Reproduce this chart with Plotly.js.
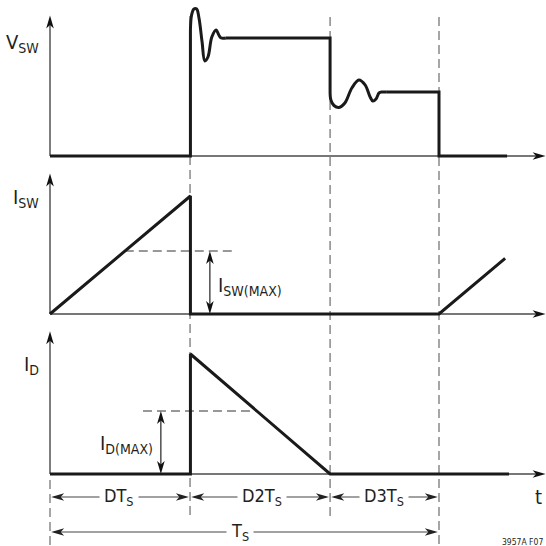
<!DOCTYPE html>
<html>
<head>
<meta charset="utf-8">
<script src="https://cdn.plot.ly/plotly-3.0.1.min.js"></script>
<style>
  html, body { margin: 0; padding: 0; background: #fff; }
  #chart { width: 546px; height: 546px; }
</style>
</head>
<body>
<div id="chart"></div>
<script>
// Switching period split into the three conduction intervals (fractions of T_S)
const phaseLabels = ['DT<sub>S</sub>', 'D2T<sub>S</sub>', 'D3T<sub>S</sub>'];
const phaseFractions = [0.36, 0.36, 0.28];
const periodLabel = 'T<sub>S</sub>';

// Switch-node voltage, normalised to its level while the diode conducts
const vswOffT = [0, 0.361, 0.361];
const vswOffV = [0, 0, 1.068];
const vswRing1T = [0.361, 0.364, 0.370, 0.377, 0.383, 0.391, 0.398, 0.406, 0.416, 0.427, 0.434, 0.440, 0.452];
const vswRing1V = [1.068, 1.195, 1.246, 1.246, 1.169, 0.966, 0.805, 0.839, 1.008, 1.068, 1.025, 1.000, 1.000];
const vswHighT = [0.452, 0.72, 0.72];
const vswHighV = [1.000, 1.000, 0.559];
const vswRing2T = [0.720, 0.722, 0.730, 0.743, 0.758, 0.776, 0.794, 0.810, 0.823, 0.830, 0.838, 0.846, 0.853, 0.864];
const vswRing2V = [0.559, 0.475, 0.428, 0.411, 0.449, 0.576, 0.644, 0.602, 0.500, 0.466, 0.483, 0.534, 0.542, 0.542];
const vswLowT = [0.864, 1.0, 1.0, 1.175];
const vswLowV = [0.542, 0.542, 0, 0];

// Switch current, normalised to its peak
const iswT = [0, 0.361, 0.361, 1.0, 1.17];
const iswV = [0, 1, 0, 0, 0.472];
const iswMax = 0.534;

// Diode current, normalised to its peak
const idT = [0, 0.361, 0.361, 0.72, 1.18];
const idV = [0, 0, 1, 0, 0];
const idMax = 0.525;

const axisTop = 1.19;   // height of the vertical axis arrows (signal units)

// ---- page geometry (pixels) ----
const W = 546, H = 546;
const originPx = 50, periodPx = 389;
const px = v => v / W;
const py = v => 1 - v / H;

function panelAxis(topPx, bottomPx, basePx, pxPerUnit) {
  return {
    domain: [1 - bottomPx / H, 1 - topPx / H],
    range: [(basePx - bottomPx) / pxPerUnit, (basePx - topPx) / pxPerUnit],
    visible: false, fixedrange: true
  };
}

const textColor = '#231f20';
const fontFamily = "'Liberation Sans Narrow', 'DejaVu Sans Condensed', 'Roboto', sans-serif";
const wave = { color: '#1a1a1a', width: 3 };

const tr = (x, y, yaxis, shape) => ({
  x, y, yaxis, xaxis: 'x', type: 'scatter', mode: 'lines',
  line: Object.assign({ shape: shape || 'linear' }, wave),
  hoverinfo: 'skip', showlegend: false
});

const traces = [
  tr(vswOffT, vswOffV, 'y'),
  tr(vswRing1T, vswRing1V, 'y', 'spline'),
  tr(vswHighT, vswHighV, 'y'),
  tr(vswRing2T, vswRing2V, 'y', 'spline'),
  tr(vswLowT, vswLowV, 'y'),
  tr(iswT, iswV, 'y2'),
  tr(idT, idV, 'y3')
];

// phase boundaries
const bounds = [0];
phaseFractions.forEach(f => bounds.push(+(bounds[bounds.length - 1] + f).toFixed(4)));
const Ts = bounds[bounds.length - 1];
const xEnd = (W - originPx) / periodPx;

const shapes = [];
const annotations = [];

// slender barbed arrowhead, tip anchored at (x, y), sized in pixels (y up)
const HEAD_L = 13, HEAD_W = 3.8, HEAD_B = 9.5;
function head(yref, x, y, dir, color) {
  const pts = [[0, 0], [-HEAD_L, -HEAD_W], [-HEAD_B, 0], [-HEAD_L, HEAD_W]];
  const rot = {
    right: p => [p[0], p[1]],
    left:  p => [-p[0], p[1]],
    up:    p => [p[1], p[0]],
    down:  p => [p[1], -p[0]]
  }[dir];
  const path = pts.map(rot).map((p, i) => (i ? 'L' : 'M') + p[0].toFixed(2) + ',' + p[1].toFixed(2)).join('') + 'Z';
  shapes.push({
    type: 'path', xref: 'x', yref: yref,
    xsizemode: 'pixel', ysizemode: 'pixel', xanchor: x, yanchor: y,
    path: path, fillcolor: color || '#111', line: { width: 0 }, layer: 'above'
  });
}
function seg(yref, x0, y0, x1, y1, line, layer) {
  shapes.push({ type: 'line', xref: 'x', yref: yref, x0, y0, x1, y1, line, layer: layer || 'below' });
}

// axes of each panel: grey lines with black arrow tips
['y', 'y2', 'y3'].forEach(yr => {
  seg(yr, 0, 0, 0, axisTop - 0.05, { color: '#707070', width: 1.8 });
  seg(yr, 0, 0, xEnd - 0.02, 0, { color: '#4a4a4a', width: 1.3 });
  head(yr, 0, axisTop, 'up');
  head(yr, xEnd - 0.001, 0, 'right');
});

// vertical dashed boundary lines
const dash = { color: '#777', width: 1.3, dash: '9px,5px' };
const vdash = (x, topPx, botPx) => shapes.push({ type: 'line', xref: 'x', yref: 'paper',
  x0: x, x1: x, y0: py(topPx), y1: py(botPx), line: dash, layer: 'below' });
vdash(bounds[0], 480, 546);
vdash(bounds[1], 16, 520);
vdash(bounds[2], 17, 520);
vdash(Ts, 17, 546);

// I_SW(MAX) reference level and its span arrow
const iswArrowT = 0.411;
seg('y2', bounds[1] * iswMax, iswMax, 0.47, iswMax, dash);
seg('y2', iswArrowT, 0.06, iswArrowT, iswMax - 0.06, { color: '#222', width: 1.2 });
head('y2', iswArrowT, iswMax, 'up');
head('y2', iswArrowT, 0, 'down');

// I_D(MAX) reference level and its span arrow
const idArrowT = 0.285;
seg('y3', 0.239, idMax, bounds[1] + phaseFractions[1] * (1 - idMax), idMax, dash);
seg('y3', idArrowT, 0.06, idArrowT, idMax - 0.06, { color: '#222', width: 1.2 });
head('y3', idArrowT, idMax, 'up');
head('y3', idArrowT, 0, 'down');

// dimension arrows under the diode current
const dimRow1 = -0.1917, dimRow2 = -0.4833;
const dimLine = { color: '#444', width: 1.2 };
function dimension(a, b, yv, label, shiftPx) {
  seg('y3', a + 0.01, yv, b - 0.01, yv, dimLine, 'above');
  head('y3', a + 0.003, yv, 'left', '#222');
  head('y3', b - 0.003, yv, 'right', '#222');
  annotations.push({ xref: 'x', yref: 'y3', x: (a + b) / 2, y: yv, xshift: shiftPx || 0,
    text: label, showarrow: false, bgcolor: '#fff', borderpad: 4,
    font: { family: fontFamily, size: 18, color: textColor } });
}
phaseLabels.forEach((lab, i) => dimension(bounds[i], bounds[i + 1], dimRow1, lab, i === 1 ? 2 : -1));
dimension(0, Ts, dimRow2, periodLabel, -5);

// signal labels
function label(text, xPx, yPx, xanchor, size) {
  annotations.push({ xref: 'paper', yref: 'paper', x: px(xPx), y: py(yPx), xanchor: xanchor, yanchor: 'middle',
    text: text, showarrow: false, font: { family: fontFamily, size: size, color: textColor } });
}
label('V<sub>SW</sub>', 41, 43, 'right', 20);
label('I<sub>SW</sub>', 41, 198, 'right', 20);
label('I<sub>D</sub>', 41, 365, 'right', 20);
label('I<sub>SW(MAX)</sub>', 216, 286, 'left', 20);
label('I<sub>D(MAX)</sub>', 155, 444, 'right', 20);
label('t', 538, 497, 'center', 20);
label('3957A F07', 545, 542, 'right', 8.5);

const layout = {
  width: W, height: H,
  margin: { l: 0, r: 0, t: 0, b: 0 },
  paper_bgcolor: '#fff', plot_bgcolor: 'rgba(0,0,0,0)',
  showlegend: false,
  xaxis: { range: [-originPx / periodPx, xEnd], visible: false, fixedrange: true },
  yaxis: panelAxis(0, 170, 156, 118),
  yaxis2: panelAxis(170, 330, 314, 118),
  yaxis3: panelAxis(330, 546, 474, 120),
  shapes: shapes,
  annotations: annotations
};

Plotly.newPlot('chart', traces, layout, { staticPlot: true, displayModeBar: false });
</script>
</body>
</html>
